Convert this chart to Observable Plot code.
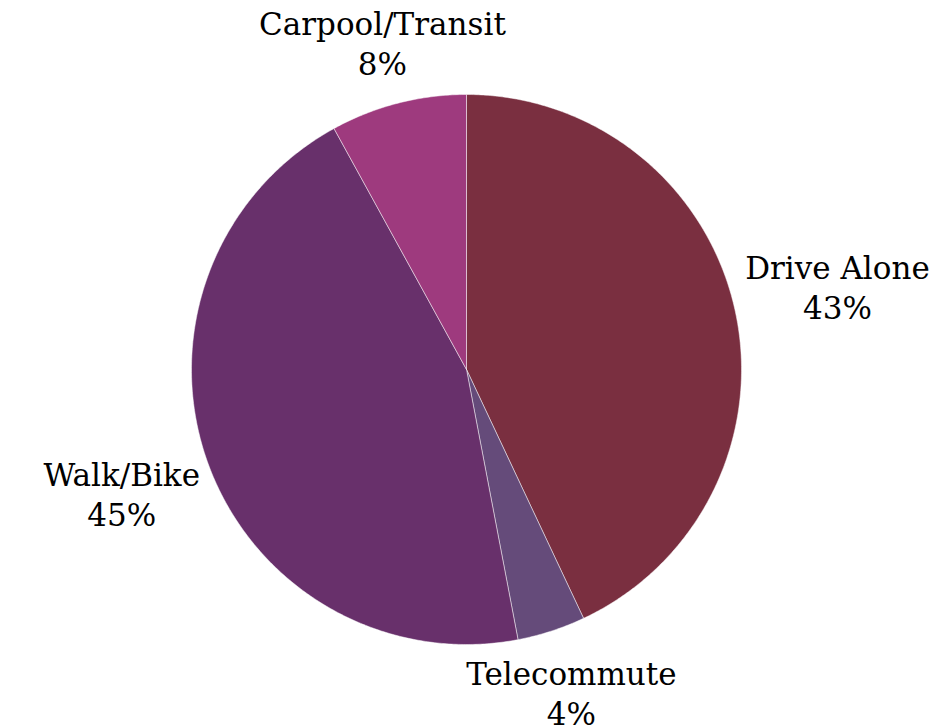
<!DOCTYPE html>
<html><head><meta charset="utf-8">
<script src="https://cdn.jsdelivr.net/npm/d3@7"></script>
<script src="https://cdn.jsdelivr.net/npm/@observablehq/plot@0.6"></script>
<style>body{margin:0;background:#fff}</style>
</head><body><div id="chart"></div>
<script>
const categories = ["Drive Alone", "Telecommute", "Walk/Bike", "Carpool/Transit"];
const shares = [43, 4, 45, 8];
const colors = ["#7a2f40", "#654b7a", "#68306b", "#9e3a7e"];

const W = 950, H = 727, cx = 466, cy = 369, R = 275;
const fontFamily = "DejaVu Serif", fontSize = 31, lineH = 40, gap = 10, halfBlock = 23;

const arcs = d3.pie().sort(null).value(d => d.value)(
  categories.map((c, i) => ({category: c, value: shares[i]}))
);

const pts = [];
arcs.forEach(a => {
  const c = a.data.category;
  const n = Math.max(2, Math.ceil((a.endAngle - a.startAngle) / (Math.PI / 360)));
  pts.push({category: c, x: cx, y: cy});
  for (let i = 0; i <= n; i++) {
    const t = a.startAngle + (a.endAngle - a.startAngle) * i / n;
    pts.push({category: c, x: cx + R * Math.sin(t), y: cy - R * Math.cos(t)});
  }
  pts.push({category: c, x: cx, y: cy});
});

const ctx = document.createElement("canvas").getContext("2d");
ctx.font = `${fontSize}px "${fontFamily}"`;
const labels = arcs.map(a => {
  const t = (a.startAngle + a.endAngle) / 2;
  const ux = Math.sin(t), uy = -Math.cos(t);
  const name = a.data.category, pct = a.data.value + "%";
  const w = Math.max(ctx.measureText(name).width, ctx.measureText(pct).width);
  const d = R + gap + Math.abs(ux) * w / 2 + Math.abs(uy) * halfBlock;
  return {text: name + "\n" + pct, x: cx + ux * d, y: cy + uy * d};
});

const chart = Plot.plot({
  width: W, height: H,
  margin: 0,
  x: {domain: [0, W], range: [0, W], axis: null},
  y: {domain: [0, H], range: [0, H], axis: null},
  color: {domain: categories, range: colors},
  marks: [
    Plot.line(pts, {x: "x", y: "y", z: "category", fill: "category", stroke: "#ffffff", strokeOpacity: 0.6, strokeWidth: 0.8, curve: "linear"}),
    Plot.text(labels, {x: "x", y: "y", text: "text", fontSize, fontFamily, lineHeight: lineH / fontSize, fill: "#000"})
  ]
});
document.getElementById("chart").append(chart);
</script>
</body></html>
